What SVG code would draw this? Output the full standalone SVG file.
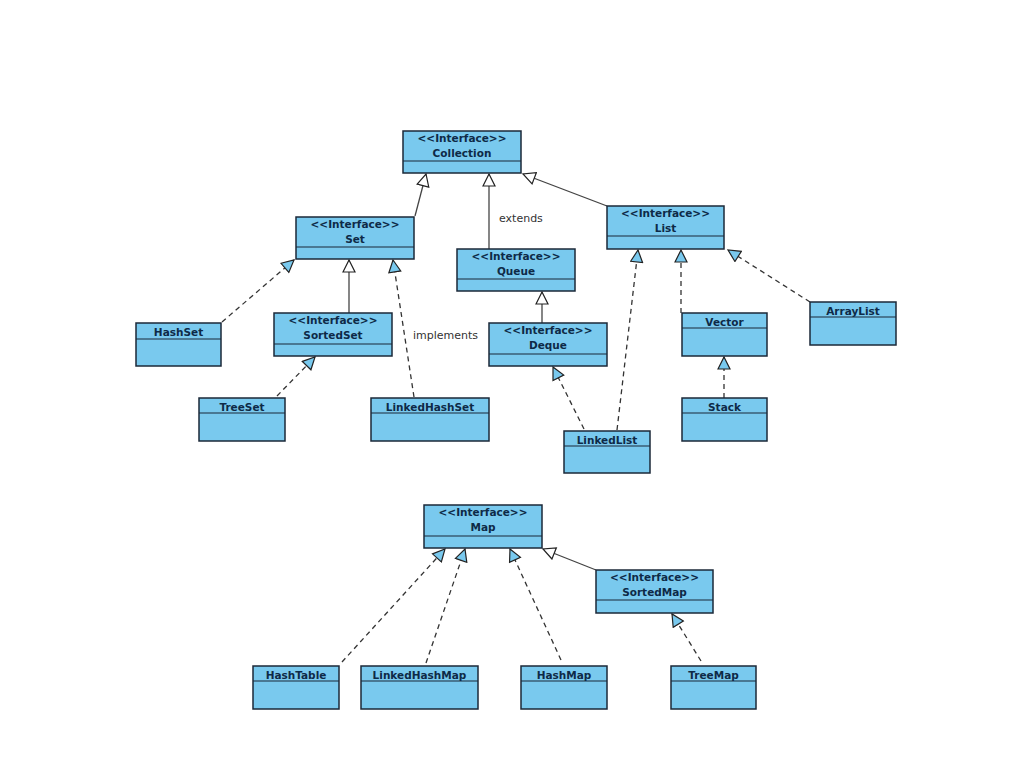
<svg xmlns="http://www.w3.org/2000/svg" width="1024" height="767" viewBox="0 0 1024 767">
<style>
.box{fill:#79c9ee;stroke:#1b2838;stroke-width:1.5}
.div{stroke:#1b2838;stroke-width:1.2}
.t{font-family:"DejaVu Sans",Verdana,sans-serif;font-size:10.5px;font-weight:bold;fill:#0e2a47;text-anchor:middle}
.lbl{font-family:"DejaVu Sans",Verdana,sans-serif;font-size:11px;fill:#333}
.gen{fill:none;stroke:#444;stroke-width:1.3;marker-end:url(#hollow)}
.real{fill:none;stroke:#333;stroke-width:1.3;stroke-dasharray:5,4;marker-end:url(#blue)}
</style>
<defs>
<marker id="hollow" markerUnits="userSpaceOnUse" markerWidth="14" markerHeight="14" viewBox="0 0 14 14" refX="13" refY="7" orient="auto">
<path d="M1,1 L13,7 L1,13 z" fill="#fff" stroke="#222" stroke-width="1.2"/>
</marker>
<marker id="blue" markerUnits="userSpaceOnUse" markerWidth="14" markerHeight="14" viewBox="0 0 14 14" refX="13" refY="7" orient="auto">
<path d="M1,1 L13,7 L1,13 z" fill="#79c9ee" stroke="#222" stroke-width="1.2"/>
</marker>
</defs>
<rect width="1024" height="767" fill="#fff"/>

<g id="connectors">
<line class="gen" x1="415" y1="216" x2="426" y2="174"/>
<line class="gen" x1="489" y1="249" x2="489" y2="174"/>
<line class="gen" x1="607" y1="206" x2="523" y2="174"/>
<line class="gen" x1="349" y1="313" x2="349" y2="260"/>
<line class="gen" x1="542" y1="323" x2="542" y2="292"/>
<line class="gen" x1="596" y1="570" x2="543" y2="549"/>
<line class="real" x1="222" y1="322" x2="294" y2="260"/>
<line class="real" x1="414" y1="397" x2="393" y2="260"/>
<line class="real" x1="277" y1="396" x2="315" y2="357"/>
<line class="real" x1="584" y1="429" x2="553" y2="367"/>
<line class="real" x1="617" y1="430" x2="638" y2="250"/>
<line class="real" x1="681" y1="313" x2="681" y2="250"/>
<line class="real" x1="810" y1="302" x2="728" y2="250"/>
<line class="real" x1="724" y1="398" x2="724" y2="357"/>
<line class="real" x1="342" y1="662" x2="445" y2="549"/>
<line class="real" x1="426" y1="663" x2="465" y2="549"/>
<line class="real" x1="561" y1="660" x2="510" y2="549"/>
<line class="real" x1="701" y1="661" x2="672" y2="614"/>
<text class="lbl" x="499" y="222">extends</text>
<text class="lbl" x="413" y="339">implements</text>
</g>

<g id="Collection">
<rect class="box" x="403" y="131" width="118" height="42"/>
<line class="div" x1="403" y1="161" x2="521" y2="161"/>
<text class="t" x="462" y="142">&lt;&lt;Interface&gt;&gt;</text>
<text class="t" x="462" y="157">Collection</text>
</g>
<g id="Set">
<rect class="box" x="296" y="217" width="118" height="42"/>
<line class="div" x1="296" y1="247" x2="414" y2="247"/>
<text class="t" x="355" y="228">&lt;&lt;Interface&gt;&gt;</text>
<text class="t" x="355" y="243">Set</text>
</g>
<g id="Queue">
<rect class="box" x="457" y="249" width="118" height="42"/>
<line class="div" x1="457" y1="279" x2="575" y2="279"/>
<text class="t" x="516" y="260">&lt;&lt;Interface&gt;&gt;</text>
<text class="t" x="516" y="275">Queue</text>
</g>
<g id="List">
<rect class="box" x="607" y="206" width="117" height="43"/>
<line class="div" x1="607" y1="236" x2="724" y2="236"/>
<text class="t" x="665.5" y="217">&lt;&lt;Interface&gt;&gt;</text>
<text class="t" x="665.5" y="232">List</text>
</g>
<g id="SortedSet">
<rect class="box" x="274" y="313" width="118" height="43"/>
<line class="div" x1="274" y1="344" x2="392" y2="344"/>
<text class="t" x="333" y="324">&lt;&lt;Interface&gt;&gt;</text>
<text class="t" x="333" y="339">SortedSet</text>
</g>
<g id="Deque">
<rect class="box" x="489" y="323" width="118" height="43"/>
<line class="div" x1="489" y1="354" x2="607" y2="354"/>
<text class="t" x="548" y="334">&lt;&lt;Interface&gt;&gt;</text>
<text class="t" x="548" y="349">Deque</text>
</g>
<g id="HashSet">
<rect class="box" x="136" y="323" width="85" height="43"/>
<line class="div" x1="136" y1="339" x2="221" y2="339"/>
<text class="t" x="178.5" y="336">HashSet</text>
</g>
<g id="TreeSet">
<rect class="box" x="199" y="398" width="86" height="43"/>
<line class="div" x1="199" y1="413" x2="285" y2="413"/>
<text class="t" x="242" y="411">TreeSet</text>
</g>
<g id="LinkedHashSet">
<rect class="box" x="371" y="398" width="118" height="43"/>
<line class="div" x1="371" y1="413" x2="489" y2="413"/>
<text class="t" x="430" y="411">LinkedHashSet</text>
</g>
<g id="LinkedList">
<rect class="box" x="564" y="431" width="86" height="42"/>
<line class="div" x1="564" y1="446" x2="650" y2="446"/>
<text class="t" x="607" y="444">LinkedList</text>
</g>
<g id="Vector">
<rect class="box" x="682" y="313" width="85" height="43"/>
<line class="div" x1="682" y1="328" x2="767" y2="328"/>
<text class="t" x="724.5" y="326">Vector</text>
</g>
<g id="Stack">
<rect class="box" x="682" y="398" width="85" height="43"/>
<line class="div" x1="682" y1="413" x2="767" y2="413"/>
<text class="t" x="724.5" y="411">Stack</text>
</g>
<g id="ArrayList">
<rect class="box" x="810" y="302" width="86" height="43"/>
<line class="div" x1="810" y1="317" x2="896" y2="317"/>
<text class="t" x="853" y="315">ArrayList</text>
</g>
<g id="Map">
<rect class="box" x="424" y="505" width="118" height="43"/>
<line class="div" x1="424" y1="536" x2="542" y2="536"/>
<text class="t" x="483" y="516">&lt;&lt;Interface&gt;&gt;</text>
<text class="t" x="483" y="531">Map</text>
</g>
<g id="SortedMap">
<rect class="box" x="596" y="570" width="117" height="43"/>
<line class="div" x1="596" y1="600" x2="713" y2="600"/>
<text class="t" x="654.5" y="581">&lt;&lt;Interface&gt;&gt;</text>
<text class="t" x="654.5" y="596">SortedMap</text>
</g>
<g id="HashTable">
<rect class="box" x="253" y="666" width="86" height="43"/>
<line class="div" x1="253" y1="681" x2="339" y2="681"/>
<text class="t" x="296" y="679">HashTable</text>
</g>
<g id="LinkedHashMap">
<rect class="box" x="361" y="666" width="117" height="43"/>
<line class="div" x1="361" y1="681" x2="478" y2="681"/>
<text class="t" x="419.5" y="679">LinkedHashMap</text>
</g>
<g id="HashMap">
<rect class="box" x="521" y="666" width="86" height="43"/>
<line class="div" x1="521" y1="681" x2="607" y2="681"/>
<text class="t" x="564" y="679">HashMap</text>
</g>
<g id="TreeMap">
<rect class="box" x="671" y="666" width="85" height="43"/>
<line class="div" x1="671" y1="681" x2="756" y2="681"/>
<text class="t" x="713.5" y="679">TreeMap</text>
</g>
</svg>
